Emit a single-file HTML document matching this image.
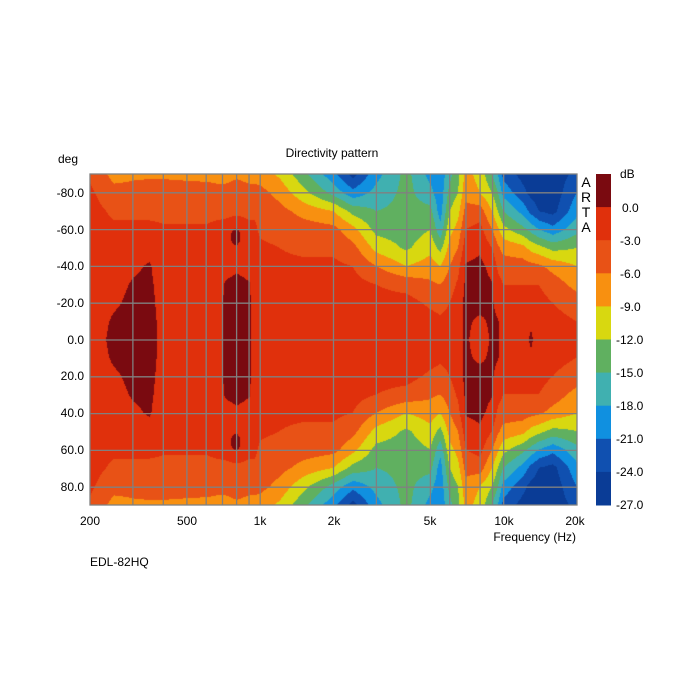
<!DOCTYPE html>
<html><head><meta charset="utf-8"><style>
body{margin:0;background:#fff;width:700px;height:700px;overflow:hidden;position:relative;font-family:"Liberation Sans",sans-serif;}
canvas{position:absolute;left:90px;top:174px;}
svg{position:absolute;left:0;top:0;}
</style></head><body>
<canvas id="c" width="487" height="331"></canvas>
<svg width="700" height="700" xmlns="http://www.w3.org/2000/svg" font-family="Liberation Sans, sans-serif" font-size="12" fill="#000">
<g id="grid" stroke="#808080" stroke-width="1.3" fill="none"></g>
<rect x="90" y="174" width="487" height="331" fill="none" stroke="#808080" stroke-width="1.3"/>
<text x="332" y="157" text-anchor="middle">Directivity pattern</text>
<text x="58" y="163">deg</text>
<g text-anchor="end">
<text x="84" y="197">-80.0</text><text x="84" y="234">-60.0</text><text x="84" y="270">-40.0</text>
<text x="84" y="307">-20.0</text><text x="84" y="344">0.0</text><text x="84" y="380">20.0</text>
<text x="84" y="417">40.0</text><text x="84" y="454">60.0</text><text x="84" y="491">80.0</text>
</g>
<g text-anchor="middle">
<text x="90" y="525">200</text><text x="187" y="525">500</text><text x="260" y="525">1k</text>
<text x="334" y="525">2k</text><text x="430" y="525">5k</text><text x="504" y="525">10k</text><text x="575" y="525">20k</text>
<text x="586" y="187" font-size="14">A</text><text x="586" y="202" font-size="14">R</text>
<text x="586" y="217" font-size="14">T</text><text x="586" y="232" font-size="14">A</text>
</g>
<text x="576" y="541" text-anchor="end">Frequency (Hz)</text>
<text x="90" y="566">EDL-82HQ</text>
<g id="cb"></g>
<g font-size="12">
<text x="620" y="178">dB</text>
<text x="622" y="212">0.0</text><text x="620" y="245">-3.0</text><text x="620" y="278">-6.0</text>
<text x="620" y="311">-9.0</text><text x="616" y="344">-12.0</text><text x="616" y="377">-15.0</text>
<text x="616" y="410">-18.0</text><text x="616" y="443">-21.0</text><text x="616" y="476">-24.0</text>
<text x="616" y="509">-27.0</text>
</g>
</svg>
<script>
var cols=[[122,10,16],[224,48,12],[232,82,22],[248,144,16],[216,216,16],[96,176,96],[64,176,176],[16,144,224],[16,80,176],[10,60,150]];
var NS="http://www.w3.org/2000/svg";
var cb=document.getElementById('cb');
for(var i=0;i<10;i++){var r=document.createElementNS(NS,'rect');r.setAttribute('x',596);r.setAttribute('y',174+i*33.1);r.setAttribute('width',15);r.setAttribute('height',33.6);r.setAttribute('fill','rgb('+cols[i].join(',')+')');cb.appendChild(r);}
var grid=document.getElementById('grid');
function X(f){return 90+Math.log10(f/200)*243.5;}
var fs=[300,400,500,600,700,800,900,1000,2000,3000,4000,5000,6000,7000,8000,9000,10000];
fs.forEach(function(f){var l=document.createElementNS(NS,'line');var x=X(f);l.setAttribute('x1',x);l.setAttribute('x2',x);l.setAttribute('y1',174);l.setAttribute('y2',505);grid.appendChild(l);});
for(var a=-80;a<=80;a+=20){var l=document.createElementNS(NS,'line');var y=340+a*1.84;l.setAttribute('x1',90);l.setAttribute('x2',577);l.setAttribute('y1',y);l.setAttribute('y2',y);grid.appendChild(l);}
var D={200:[-2,-2,-2,-2,-2,-2,-2,-2,-2.5,-3.5],
250:[1,0.5,-0.5,-1,-1.5,-2,-2.5,-3.5,-5,-7],
300:[1.5,1.2,0.8,0.3,-0.5,-1.5,-2.5,-3.5,-5,-6.5],
350:[1,1,0.8,0.6,0.3,-1,-2.5,-3.5,-4.5,-6.5],
400:[-1,-1,-1.2,-1.5,-2,-2.5,-2.8,-3.5,-4.5,-6.5],
600:[-1.5,-1.5,-1.5,-1.8,-2,-2.5,-2.8,-3.5,-4.5,-7],
660:[-1.2,-1.2,-1.2,-1.5,-1.8,-2.2,-2.5,-3.5,-5,-7],
720:[0.5,0.5,0.5,0.3,-1,-2,-2.3,-3.5,-5,-7],
800:[1,1,1,0.8,-0.5,-1.5,-1.5,-3.5,-4.5,-6.5],
900:[0.4,0.4,0.4,0.2,-1,-2,-2.5,-3.5,-5,-7],
950:[-1,-1,-1,-1.2,-1.5,-2,-2.5,-3.5,-5,-7],
1000:[-1.5,-1.5,-1.5,-1.8,-2,-2.5,-3.5,-4,-5,-7.5],
1200:[-1.5,-1.5,-1.5,-2,-2.5,-3,-4,-5,-7,-9.5],
1500:[-1.5,-1.5,-1.5,-2,-2.5,-3.5,-4.5,-7,-11,-14],
2000:[-1.5,-1.5,-1.5,-2,-2.5,-3.5,-5,-9,-16,-20],
2400:[-1.5,-1.5,-1.5,-2,-3,-5,-8,-13,-20,-25],
3000:[-1.5,-1.5,-2,-3,-6,-10,-13,-15,-17,-19],
4000:[-1.5,-1.5,-2,-4,-9,-12.5,-13.5,-14,-14,-14],
5000:[-1.5,-2,-3.5,-5.5,-7.5,-10,-12,-14,-17,-19],
5500:[-2,-2.5,-4,-6,-9,-13,-17,-19.5,-20,-20],
6000:[-2,-2.2,-3,-4.5,-6,-8,-10,-12,-14,-16],
6500:[-1,-1,-1.5,-2.5,-4,-6,-8,-10,-12,-13],
7000:[0.5,0.5,0.8,0.5,0.3,-1.5,-3,-5,-7,-8],
8000:[-1.5,-0.5,1,1,0.8,-0.5,-2,-4.5,-9,-10],
9000:[0.5,0.5,0.3,0.2,-1,-3,-6,-9,-12,-15],
9500:[0.3,0.2,-1,-2,-3.5,-5.5,-8.5,-12,-15,-18],
10000:[-1.5,-1.5,-2,-3,-4.5,-7,-11,-15,-19,-22],
12000:[-1.5,-1.5,-2,-3,-4.5,-8,-14,-19,-23,-25],
13000:[0.5,-0.5,-2,-3,-5,-10,-16,-22,-25,-26],
14000:[-1.5,-1.5,-2,-3,-5.5,-11,-18,-24,-25.5,-26],
16000:[-2,-2,-3,-4.5,-7,-13,-20,-25,-26,-26],
20000:[-2,-3,-4.5,-7,-9,-12,-16,-19,-21,-23]};
var keys=Object.keys(D).map(Number).sort(function(a,b){return a-b;});
var ku=keys.map(function(f){return Math.log10(f/200)/2;});
function val(u,a){
 var i=0;while(i<ku.length-2&&u>ku[i+1])i++;
 var t=(u-ku[i])/(ku[i+1]-ku[i]);t=Math.max(0,Math.min(1,t));
 var p=a/10;var j=Math.min(8,Math.floor(p));var s=p-j;
 var A=D[keys[i]],B=D[keys[i+1]];
 var v0=A[j]*(1-s)+A[j+1]*s,v1=B[j]*(1-s)+B[j+1]*s;
 return v0*(1-t)+v1*t;}
var c=document.getElementById('c').getContext('2d');
var W=487,H=331,img=c.createImageData(W,H);
var u8=Math.log10(790/200)/2;
for(var y=0;y<H;y++){var ang=(y/(H-1))*180-90;var a=Math.abs(ang);
 for(var x=0;x<W;x++){var u=x/(W-1);var v=val(u,a);
  var du=(u-u8)/0.012,da=(a-56)/5;v+=3.5*Math.exp(-du*du-da*da);
  var k=v>0?0:Math.min(9,1+Math.floor(-v/3));
  var o=(y*W+x)*4;img.data[o]=cols[k][0];img.data[o+1]=cols[k][1];img.data[o+2]=cols[k][2];img.data[o+3]=255;}}
c.putImageData(img,0,0);
</script>
</body></html>
